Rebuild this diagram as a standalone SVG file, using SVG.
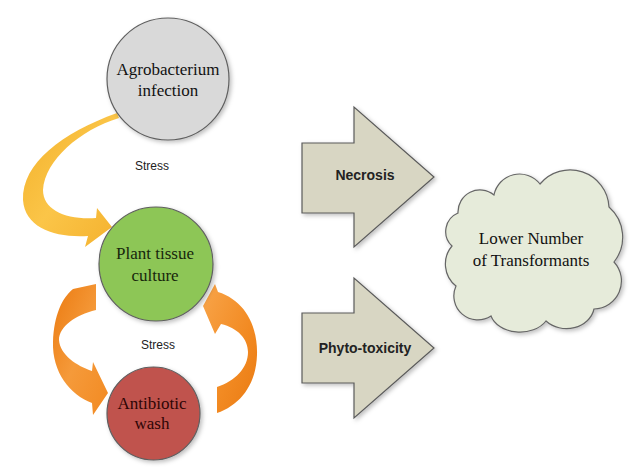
<svg xmlns="http://www.w3.org/2000/svg" width="637" height="473" viewBox="0 0 637 473">
<defs>
<filter id="sh" x="-20%" y="-20%" width="140%" height="140%">
<feDropShadow dx="2" dy="2" stdDeviation="2" flood-color="#000" flood-opacity="0.25"/>
</filter>
<linearGradient id="yel" x1="0" y1="0" x2="1" y2="1">
<stop offset="0" stop-color="#F2B02A"/>
<stop offset="0.5" stop-color="#FBC548"/>
<stop offset="1" stop-color="#F4B12E"/>
</linearGradient>
<linearGradient id="orL" x1="0" y1="0" x2="1" y2="1">
<stop offset="0" stop-color="#EB7A10"/>
<stop offset="0.5" stop-color="#F59A3A"/>
<stop offset="1" stop-color="#F28A22"/>
</linearGradient>
<linearGradient id="orR" x1="0" y1="0" x2="1" y2="1">
<stop offset="0" stop-color="#F8A54A"/>
<stop offset="0.6" stop-color="#F28A22"/>
<stop offset="1" stop-color="#E97A12"/>
</linearGradient>
</defs>
<style>
.circ{stroke:#5f5f5f;stroke-width:1.2;filter:url(#sh)}
.blk{fill:#D8D6C3;stroke:#5a5a5a;stroke-width:1.2;filter:url(#sh)}
.ser{font-family:"Liberation Serif","Times New Roman",serif;font-size:17px;text-anchor:middle}
.san{font-family:"Liberation Sans",Arial,sans-serif;text-anchor:middle}
.lbl{font-size:12px;fill:#222}
.bold{font-size:14px;font-weight:bold;fill:#222}
</style>
<g id="connectors">
<path id="arrow-yellow" fill="url(#yel)" d="M117,113 C62,133 22,163 23,200 C25,228 55,238 88,236 L85,247 L112,227 L97,208 L96,218 C66,220 43,210 43,190 C45,160 80,130 119,118 Z"/>
<path id="arrow-orange-left" fill="url(#orL)" d="M73,289 L96,284 L96,310 C75,315 59,327 59,340 C60,355 77,366 92,371 L93,362 L108,393 L93,415 L92,403 C70,395 52,372 53,342 C54,315 62,298 73,289 Z"/>
<path id="arrow-orange-right" fill="url(#orR)" d="M203,306 L215,284 L218,292 C244,300 258,325 257,355 C256,385 240,405 217,413 L217,387 C235,381 248,368 248,352 C248,339 238,328 221,324 L215,334 Z"/>
<text class="san lbl" x="152" y="170">Stress</text>
<text class="san lbl" x="158" y="349">Stress</text>
</g>
<g id="node-agro">
<circle class="circ" cx="168" cy="79" r="61" fill="#D9D9D9"/>
<text class="ser" x="168" y="75" fill="#111">Agrobacterium</text>
<text class="ser" x="168" y="96" fill="#111">infection</text>
</g>
<g id="node-plant">
<circle class="circ" cx="156" cy="264" r="57" fill="#8DC657"/>
<text class="ser" x="155" y="259" fill="#17260c">Plant tissue</text>
<text class="ser" x="155" y="281" fill="#17260c">culture</text>
</g>
<g id="node-antibiotic">
<circle class="circ" cx="153.5" cy="413.5" r="46.5" fill="#C0524E"/>
<text class="ser" x="152" y="409" fill="#2e0505">Antibiotic</text>
<text class="ser" x="152" y="429" fill="#2e0505">wash</text>
</g>
<g id="node-necrosis">
<path class="blk" d="M302,143 L354,143 L354,107 L434,177 L354,247 L354,213 L302,213 Z"/>
<text class="san bold" x="365" y="180">Necrosis</text>
</g>
<g id="node-phyto">
<path class="blk" d="M302,313 L354,313 L354,278 L434,348 L354,418 L354,383 L302,383 Z"/>
<text class="san bold" x="365" y="353">Phyto-toxicity</text>
</g>
<g id="node-cloud">
<path fill="#E6EBDA" stroke="#666" stroke-width="1.2" filter="url(#sh)" d="M458,213 A22,22 0 0 1 494,195 A26,26 0 0 1 540,184 A39,39 0 0 1 609,207 A40,40 0 0 1 614,262 A28,28 0 0 1 594,309 A28,24 0 0 1 546,321 A30,22 0 0 1 491,316 A24,24 0 0 1 456,286 A28,28 0 0 1 452,246 A20,20 0 0 1 458,213 Z"/>
<text class="ser" x="531" y="244" fill="#111">Lower Number</text>
<text class="ser" x="531" y="266" fill="#111">of Transformants</text>
</g>
</svg>
